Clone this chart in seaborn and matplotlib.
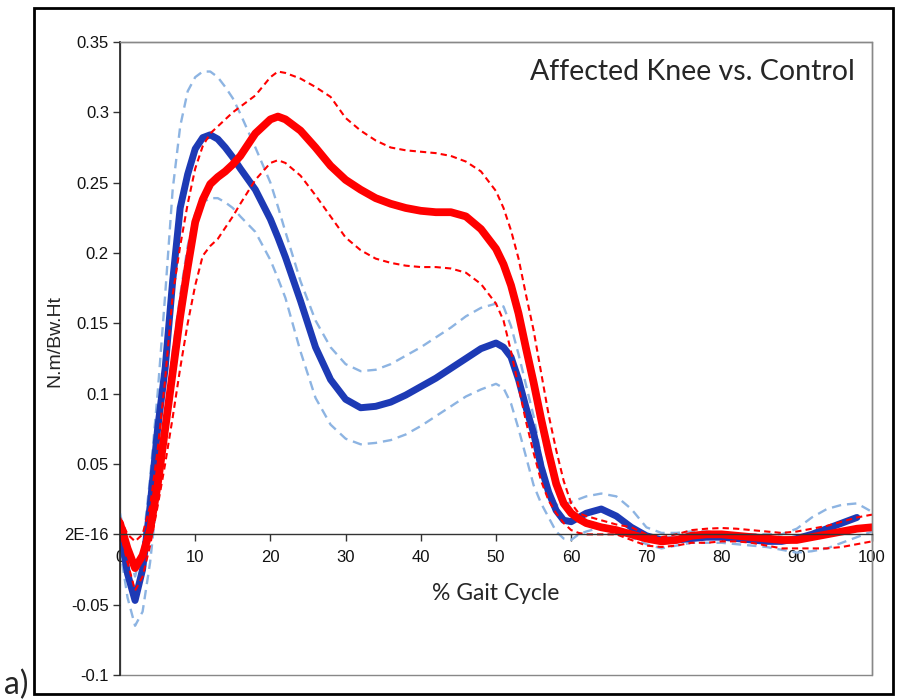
import numpy as np
import matplotlib
matplotlib.use("Agg")
from matplotlib import pyplot as plt
from matplotlib.patches import Rectangle
import seaborn as sns

sns.set_style("white")
plt.rcParams['font.family'] = ['Liberation Sans', 'DejaVu Sans']

# % gait cycle
pct = [0, 1, 2, 3, 4, 5, 6, 7, 8, 9, 10, 11, 12, 13, 14, 15, 16, 18, 20, 21, 22, 24, 26, 28,
       30, 32, 34, 36, 38, 40, 42, 44, 46, 48, 50, 51, 52, 53, 54, 55, 56, 57, 58, 59, 60,
       61, 62, 64, 66, 68, 70, 72, 74, 76, 78, 80, 82, 84, 86, 88, 90, 92, 94, 96, 98, 100]

# control (blue)
control_mean = [0.003, -0.028, -0.047, -0.025, 0.02, 0.075, 0.118, 0.18, 0.232, 0.256, 0.274,
                0.282, 0.284, 0.281, 0.275, 0.268, 0.26, 0.245, 0.224, 0.211, 0.197, 0.166,
                0.133, 0.11, 0.096, 0.09, 0.091, 0.094, 0.099, 0.105, 0.111, 0.118, 0.125,
                0.132, 0.136, 0.133, 0.126, 0.11, 0.09, 0.072, 0.048, 0.03, 0.017, 0.01, 0.009,
                0.012, 0.015, 0.018, 0.013, 0.005, -0.001, -0.004, -0.004, -0.003, -0.002,
                -0.002, -0.003, -0.004, -0.005, -0.005, -0.003, 0.0, 0.004, 0.008, 0.012, np.nan]
control_upper = [0.015, -0.01, -0.03, -0.01, 0.04, 0.1, 0.17, 0.245, 0.29, 0.315, 0.325,
                 0.329, 0.329, 0.325, 0.318, 0.31, 0.299, 0.275, 0.25, 0.233, 0.215, 0.18,
                 0.152, 0.133, 0.121, 0.116, 0.117, 0.121, 0.127, 0.133, 0.14, 0.147, 0.155,
                 0.161, 0.164, 0.162, 0.148, 0.128, 0.106, 0.084, 0.055, 0.032, 0.021, 0.021,
                 0.023, 0.025, 0.027, 0.029, 0.027, 0.018, 0.005, 0.001, 0.001, 0.002, 0.002,
                 0.001, 0.0, 0.0, 0.0, 0.0, 0.004, 0.012, 0.018, 0.021, 0.022, 0.016]
control_lower = [-0.01, -0.045, -0.065, -0.055, -0.02, 0.03, 0.08, 0.13, 0.17, 0.205, 0.228,
                 0.236, 0.239, 0.239, 0.236, 0.232, 0.226, 0.215, 0.195, 0.182, 0.168, 0.13,
                 0.097, 0.078, 0.068, 0.064, 0.065, 0.067, 0.071, 0.077, 0.084, 0.091, 0.098,
                 0.103, 0.107, 0.104, 0.093, 0.075, 0.055, 0.035, 0.022, 0.012, 0.002, -0.003,
                 -0.004, 0.0, 0.002, 0.005, 0.002, -0.002, -0.007, -0.01, -0.008, -0.006, -0.006,
                 -0.006, -0.007, -0.008, -0.009, -0.011, -0.013, -0.012, -0.01, -0.006, -0.002, 0.002]

# affected knee (red)
affected_mean = [0.008, -0.01, -0.024, -0.015, 0.003, 0.035, 0.075, 0.115, 0.155, 0.19, 0.222,
                 0.238, 0.249, 0.254, 0.258, 0.263, 0.269, 0.285, 0.295, 0.297, 0.295, 0.287,
                 0.275, 0.262, 0.252, 0.245, 0.239, 0.235, 0.232, 0.23, 0.229, 0.229, 0.226,
                 0.217, 0.203, 0.192, 0.177, 0.157, 0.132, 0.108, 0.082, 0.058, 0.036, 0.022,
                 0.015, 0.011, 0.008, 0.005, 0.003, 0.0, -0.003, -0.005, -0.004, -0.001, 0.0,
                 0.0, -0.001, -0.002, -0.003, -0.004, -0.004, -0.002, 0.0, 0.002, 0.004, 0.005]
affected_upper = [0.012, 0.0, -0.005, 0.0, 0.02, 0.06, 0.11, 0.17, 0.205, 0.235, 0.26,
                  0.276, 0.285, 0.29, 0.295, 0.3, 0.304, 0.312, 0.325, 0.329, 0.328, 0.324,
                  0.318, 0.311, 0.296, 0.287, 0.28, 0.275, 0.273, 0.272, 0.271, 0.269, 0.265,
                  0.258, 0.244, 0.232, 0.216, 0.196, 0.17, 0.145, 0.115, 0.085, 0.06, 0.038,
                  0.022, 0.015, 0.013, 0.01, 0.007, 0.005, 0.0, -0.002, 0.0, 0.003, 0.004,
                  0.0045, 0.004, 0.003, 0.002, 0.001, 0.002, 0.004, 0.006, 0.009, 0.012, 0.014]
affected_lower = [0.003, -0.02, -0.04, -0.03, -0.008, 0.02, 0.05, 0.083, 0.118, 0.15, 0.177,
                  0.198, 0.205, 0.21, 0.218, 0.226, 0.235, 0.252, 0.264, 0.266, 0.264, 0.255,
                  0.241, 0.226, 0.211, 0.202, 0.196, 0.193, 0.191, 0.19, 0.19, 0.189, 0.186,
                  0.178, 0.164, 0.152, 0.13, 0.105, 0.08, 0.058, 0.038, 0.024, 0.015, 0.008,
                  0.003, 0.001, 0.0, 0.0, 0.0, -0.004, -0.008, -0.009, -0.008, -0.006, -0.006,
                  -0.005, -0.005, -0.006, -0.008, -0.01, -0.01, -0.01, -0.01, -0.009, -0.007, -0.005]

y_ticks = [-0.1, -0.05, 0.0, 0.05, 0.1, 0.15, 0.2, 0.25, 0.3, 0.35]
y_ticklabels = ['-0.1', '-0.05', '2E-16', '0.05', '0.1', '0.15', '0.2', '0.25', '0.3', '0.35']
x_ticks = [0, 10, 20, 30, 40, 50, 60, 70, 80, 90, 100]

blue = '#1d3ab5'
light_blue = '#8db4e2'
red = '#ff0000'

fig = plt.figure(figsize=(8.97, 7.0), dpi=100)
ax = fig.add_axes([0.1338, 0.0357, 0.8383, 0.9043])

dash_kw = dict(dash_capstyle='butt', solid_joinstyle='round')
thick_kw = dict(solid_capstyle='round', solid_joinstyle='round')
sns.lineplot(x=pct, y=control_upper, ax=ax, color=light_blue, lw=1.7,
             linestyle=(0, (4, 2.5)), **dash_kw)
sns.lineplot(x=pct, y=control_lower, ax=ax, color=light_blue, lw=1.7,
             linestyle=(0, (4, 2.5)), **dash_kw)
sns.lineplot(x=pct, y=control_mean, ax=ax, color=blue, lw=5.0, **thick_kw)
sns.lineplot(x=pct, y=affected_upper, ax=ax, color=red, lw=1.5,
             linestyle=(0, (3, 2)), **dash_kw)
sns.lineplot(x=pct, y=affected_lower, ax=ax, color=red, lw=1.5,
             linestyle=(0, (3, 2)), **dash_kw)
sns.lineplot(x=pct, y=affected_mean, ax=ax, color=red, lw=5.6, **thick_kw)

ax.set_xlim(0, 100)
ax.set_ylim(-0.1, 0.35)
ax.set_yticks(y_ticks)
ax.set_yticklabels(y_ticklabels)
ax.set_xticks(x_ticks)
ax.set_xticklabels([str(t) for t in x_ticks])

# x axis runs through zero
ax.spines['bottom'].set_position(('data', 0))
ax.spines['bottom'].set_color('#333333')
ax.spines['bottom'].set_linewidth(1.0)
ax.spines['left'].set_color('#222222')
ax.spines['left'].set_linewidth(1.2)
for side in ['top', 'right']:
    ax.spines[side].set_color('#888888')
    ax.spines[side].set_linewidth(1.0)
ax.add_patch(Rectangle((0, 0), 1, 1, transform=ax.transAxes, fill=False,
                       edgecolor='#888888', lw=1.0, clip_on=False, zorder=0))

ax.tick_params(axis='both', which='major', direction='out', length=5, width=1,
               color='#333333', labelsize=12, labelcolor='#111111')
ax.tick_params(axis='x', pad=6, bottom=True)
ax.tick_params(axis='y', pad=3, left=True)

ax.set_ylabel('')
ax.text(-0.0864, 0.528, 'N.m/Bw.Ht', transform=ax.transAxes, rotation=90,
        ha='center', va='center', fontsize=14)
ax.text(0.5, 0.1295, '% Gait Cycle', transform=ax.transAxes, ha='center', va='center',
        fontsize=16.5, family=['Lato', 'DejaVu Sans'])
ax.text(0.977, 0.953, 'Affected Knee vs. Control', transform=ax.transAxes, ha='right',
        va='center', fontsize=20.5, family=['Lato', 'DejaVu Sans'])

fig.text(0.004, 0.021, 'a)', fontsize=23, family=['Lato', 'DejaVu Sans'], va='center')
fig.add_artist(Rectangle((0.0379, 0.0086), 0.9576, 0.98, transform=fig.transFigure,
                         fill=False, edgecolor='black', lw=2.0))

fig.savefig('out.png', dpi=100)
